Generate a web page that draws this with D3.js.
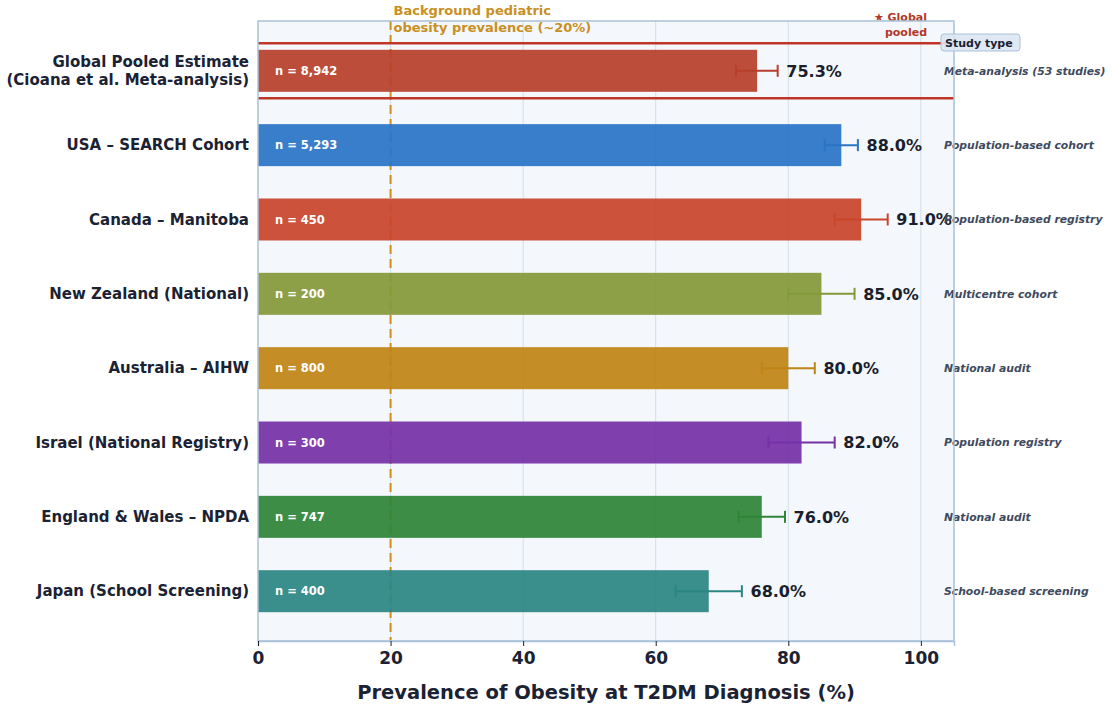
<!DOCTYPE html>
<html>
<head>
<meta charset="utf-8">
<script src="https://cdn.jsdelivr.net/npm/d3@7"></script>
<style>
  body { margin: 0; background: #fff; }
  svg { font-family: "DejaVu Sans", sans-serif; }
</style>
</head>
<body>
<svg id="chart" width="1112" height="706"></svg>
<script>
// data
var studies = ["Global Pooled Estimate\n(Cioana et al. Meta-analysis)", "USA – SEARCH Cohort", "Canada – Manitoba",
  "New Zealand (National)", "Australia – AIHW", "Israel (National Registry)", "England & Wales – NPDA", "Japan (School Screening)"];
var prevalence = [75.3, 88.0, 91.0, 85.0, 80.0, 82.0, 76.0, 68.0];
var ciLow = [72.1, 85.5, 87.0, 80.0, 76.0, 77.0, 72.5, 63.0];
var ciHigh = [78.4, 90.5, 95.0, 90.0, 84.0, 87.0, 79.5, 73.0];
var sampleN = ["8,942", "5,293", "450", "200", "800", "300", "747", "400"];
var studyType = ["Meta-analysis (53 studies)", "Population-based cohort", "Population-based registry",
  "Multicentre cohort", "National audit", "Population registry", "National audit", "School-based screening"];
var colors = ["#b83f2c", "#2a74c6", "#c9452c", "#84993a", "#bf8416", "#7531a8", "#2f8438", "#2b8583"];
var xTicks = [0, 20, 40, 60, 80, 100];
var background = 20;

var svg = d3.select("#chart");
var plotL = 258, plotR = 954, plotT = 21, plotB = 641;

var x = d3.scaleLinear().domain([0, 105]).range([plotL, plotR]);
var y = d3.scalePoint().domain(d3.range(studies.length)).range([plotT, plotB]).padding(0.67);
var step = y.step();
var barH = step * 0.565;

// plot background
svg.append("rect")
	.attr("x", plotL).attr("y", plotT)
	.attr("width", plotR - plotL).attr("height", plotB - plotT)
	.attr("fill", "#f4f7fb");

// grid
svg.append("g").selectAll("line")
	.data(xTicks.slice(1)).enter()
	.append("line")
	.attr("x1", function(d) { return x(d); })
	.attr("x2", function(d) { return x(d); })
	.attr("y1", plotT).attr("y2", plotB)
	.attr("stroke", "#d3dfea").attr("stroke-width", 1);

// background prevalence line
svg.append("line")
	.attr("x1", x(background)).attr("x2", x(background))
	.attr("y1", plotT).attr("y2", plotB)
	.attr("stroke", "#cf8d1c").attr("stroke-width", 2)
	.attr("stroke-dasharray", "9,5");

svg.append("text")
	.attr("x", x(background) + 3).attr("y", 15)
	.attr("fill", "#c98f22").attr("font-size", 13).attr("font-weight", "bold")
	.selectAll("tspan")
	.data(["Background pediatric", "obesity prevalence (~20%)"]).enter()
	.append("tspan")
	.attr("x", x(background) + 3)
	.attr("dy", function(d, i) { return i ? 17 : 0; })
	.text(function(d) { return d; });

// bars
var rows = svg.append("g").selectAll("g")
	.data(studies).enter()
	.append("g");

rows.append("rect")
	.attr("x", x(0))
	.attr("y", function(d, i) { return y(i) - barH / 2; })
	.attr("width", function(d, i) { return x(prevalence[i]) - x(0); })
	.attr("height", barH)
	.attr("fill", function(d, i) { return colors[i]; })
	.attr("fill-opacity", 0.93);

// error bars
rows.append("line")
	.attr("x1", function(d, i) { return x(ciLow[i]); })
	.attr("x2", function(d, i) { return x(ciHigh[i]); })
	.attr("y1", function(d, i) { return y(i); })
	.attr("y2", function(d, i) { return y(i); })
	.attr("stroke", function(d, i) { return colors[i]; })
	.attr("stroke-width", 2);

rows.selectAll(".cap")
	.data(function(d, i) { return [[ciLow[i], i], [ciHigh[i], i]]; }).enter()
	.append("line")
	.attr("class", "cap")
	.attr("x1", function(d) { return x(d[0]); })
	.attr("x2", function(d) { return x(d[0]); })
	.attr("y1", function(d) { return y(d[1]) - 6; })
	.attr("y2", function(d) { return y(d[1]) + 6; })
	.attr("stroke", function(d) { return colors[d[1]]; })
	.attr("stroke-width", 2);

// n labels
rows.append("text")
	.attr("x", x(0) + 17)
	.attr("y", function(d, i) { return y(i); })
	.attr("dy", "0.35em")
	.attr("fill", "#fff").attr("font-size", 11.5).attr("font-weight", "bold")
	.text(function(d, i) { return "n = " + sampleN[i]; });

// value labels
rows.append("text")
	.attr("x", function(d, i) { return x(ciHigh[i] + 1.3); })
	.attr("y", function(d, i) { return y(i); })
	.attr("dy", "0.36em")
	.attr("fill", "#1a1f2e").attr("font-size", 16).attr("font-weight", "bold")
	.text(function(d, i) { return prevalence[i].toFixed(1) + "%"; });

// study type
rows.append("text")
	.attr("x", 944)
	.attr("y", function(d, i) { return y(i); })
	.attr("dy", "0.35em")
	.attr("fill", "#3e4a5e").attr("font-size", 10.8).attr("font-weight", "bold")
	.attr("font-style", "italic")
	.text(function(d, i) { return studyType[i]; });

// y labels
rows.append("text")
	.attr("text-anchor", "end")
	.attr("fill", "#1a2233").attr("font-size", 15).attr("font-weight", "bold")
	.each(function(d, i) {
		var lines = d.split("\n");
		var t = d3.select(this);
		lines.forEach(function(l, k) {
			t.append("tspan")
				.attr("x", plotL - 9)
				.attr("y", y(i) + (k - (lines.length - 1) / 2) * 18)
				.attr("dy", "0.35em")
				.text(l);
		});
	});

// highlight lines around global pooled
var g0 = y(0);
svg.append("g").selectAll("line")
	.data([-0.37, 0.37]).enter()
	.append("line")
	.attr("x1", plotL).attr("x2", plotR)
	.attr("y1", function(d) { return g0 + d * step; })
	.attr("y2", function(d) { return g0 + d * step; })
	.attr("stroke", "#bf3626").attr("stroke-width", 2.5);

svg.append("text")
	.attr("text-anchor", "end")
	.attr("fill", "#b2382a").attr("font-size", 11).attr("font-weight", "bold")
	.selectAll("tspan")
	.data(["★ Global", "pooled"]).enter()
	.append("tspan")
	.attr("x", 927)
	.attr("y", function(d, i) { return 21 + i * 15; })
	.text(function(d) { return d; });

// plot frame
svg.append("rect")
	.attr("x", plotL).attr("y", plotT)
	.attr("width", plotR - plotL).attr("height", plotB - plotT)
	.attr("fill", "none")
	.attr("stroke", "#a9c1d9").attr("stroke-width", 1.5);

// x axis
var xAxis = svg.append("g")
	.attr("transform", "translate(0," + plotB + ")")
	.call(d3.axisBottom(x).tickValues(xTicks).tickSize(5).tickPadding(6));
xAxis.select(".domain").attr("stroke", "#a9c1d9").attr("stroke-width", 1.5);
xAxis.selectAll(".tick line").attr("stroke", "#1a2233");
xAxis.selectAll("text")
	.attr("font-family", "DejaVu Sans").attr("font-size", 17).attr("font-weight", "bold")
	.attr("fill", "#1a2233");

svg.append("text")
	.attr("x", (plotL + plotR) / 2)
	.attr("y", 699)
	.attr("text-anchor", "middle")
	.attr("fill", "#1a2233").attr("font-size", 19.5).attr("font-weight", "bold")
	.text("Prevalence of Obesity at T2DM Diagnosis (%)");

// study type legend box (drawn last, over the line)
var box = svg.append("g");
box.append("rect")
	.attr("x", 941).attr("y", 34)
	.attr("width", 79).attr("height", 17).attr("rx", 3)
	.attr("fill", "#dbe6f2").attr("fill-opacity", 0.9)
	.attr("stroke", "#a9c1d9").attr("stroke-width", 1);
box.append("text")
	.attr("x", 945).attr("y", 47)
	.attr("fill", "#1a2233").attr("font-size", 11).attr("font-weight", "bold")
	.text("Study type");
</script>
</body>
</html>
